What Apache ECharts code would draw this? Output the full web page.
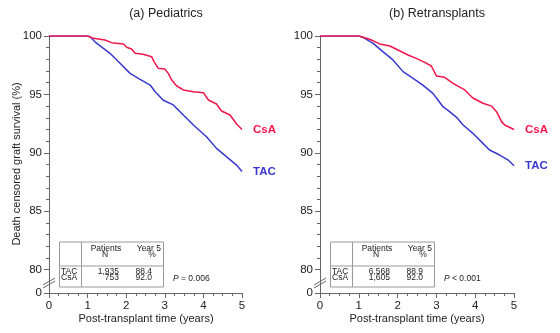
<!DOCTYPE html>
<html>
<head>
<meta charset="utf-8">
<script src="https://cdn.jsdelivr.net/npm/echarts@6/dist/echarts.min.js"></script>
<style>
  html, body { margin: 0; padding: 0; background: #fff; }
  #chart { width: 560px; height: 333px; }
</style>
</head>
<body>
<div id="chart"></div>
<script>
// ---- data ----
const panelTitles = ['(a) Pediatrics', '(b) Retransplants'];
const groups = ['TAC', 'CsA'];
const yearTicks = [0, 1, 2, 3, 4, 5];
const survivalTicks = [80, 85, 90, 95, 100];
const brokenAxisBase = 78;          // plotted position of the "0" label below the axis break

// Pediatrics, Kaplan-Meier estimates: [years, survival %]
const pedsTAC = [
  [0, 100], [1.0, 100], [1.06, 99.95], [1.19, 99.5], [1.41, 98.94], [1.58, 98.52], [1.84, 97.66],
  [2.1, 96.8], [2.36, 96.29], [2.62, 95.8], [2.75, 95.23], [2.96, 94.5], [3.22, 94.1],
  [3.48, 93.24], [3.74, 92.38], [4.08, 91.38], [4.34, 90.38], [4.65, 89.53], [4.86, 88.95]
];
const pedsCsA = [
  [0, 100], [1.0, 100], [1.15, 99.8], [1.45, 99.66], [1.62, 99.43], [1.93, 99.32], [2.01, 99.03],
  [2.14, 98.89], [2.23, 98.52], [2.44, 98.43], [2.66, 98.23], [2.72, 97.8], [2.83, 97.23],
  [3.0, 97.17], [3.09, 96.8], [3.18, 96.23], [3.31, 95.72], [3.48, 95.38], [3.74, 95.23],
  [4.0, 95.15], [4.13, 94.52], [4.34, 94.18], [4.47, 93.58], [4.69, 93.24], [4.86, 92.47]
];
const pedsN = ['1,935', '753'];
const pedsYear5 = [88.4, 92.0];
const pedsP = ' = 0.006';

// Retransplants, Kaplan-Meier estimates: [years, survival %]
const retxTAC = [
  [0, 100], [1.0, 100], [1.11, 99.89], [1.37, 99.37], [1.62, 98.66], [1.88, 97.95], [2.14, 96.95],
  [2.4, 96.38], [2.65, 95.8], [2.91, 95.09], [3.04, 94.52], [3.17, 93.95], [3.34, 93.52],
  [3.52, 93.04], [3.69, 92.38], [3.94, 91.67], [4.2, 90.81], [4.37, 90.24], [4.63, 89.81],
  [4.85, 89.38]
];
const retxCsA = [
  [0, 100], [1.0, 100], [1.02, 99.98], [1.28, 99.72], [1.54, 99.32], [1.8, 99.14], [2.05, 98.74],
  [2.27, 98.37], [2.48, 98.08], [2.7, 97.74], [2.87, 97.43], [3.0, 96.58], [3.21, 96.46],
  [3.43, 95.95], [3.73, 95.38], [3.94, 94.69], [4.2, 94.24], [4.42, 94.0], [4.55, 93.52],
  [4.68, 92.67], [4.76, 92.38]
];
const retxN = ['6,568', '1,605'];
const retxYear5 = [88.9, 92.0];
const retxP = ' < 0.001';

// ---- layout & style ----
const FONT = '"Liberation Sans", Arial, Helvetica, sans-serif';
const COLORS = { TAC: '#3838d0', CsA: '#f2164a' };
const AXIS_COLOR = '#666';
const TEXT_COLOR = '#222';
const GRID_TOP = 36, GRID_BOTTOM_Y = 293;
const panels = [
  { left: 49, width: 193, curves: [pedsTAC, pedsCsA], n: pedsN, year5: pedsYear5, p: pedsP },
  { left: 320, width: 194, curves: [retxTAC, retxCsA], n: retxN, year5: retxYear5, p: retxP }
];

const minorSurvival = [];
for (let v = survivalTicks[0]; v < survivalTicks[survivalTicks.length - 1]; v++) {
  if (!survivalTicks.includes(v)) minorSurvival.push(v);
}
const majorSurvival = [brokenAxisBase].concat(survivalTicks);

const grid = [], xAxis = [], yAxis = [], series = [], graphic = [];

panels.forEach((pn, i) => {
  grid.push({ left: pn.left, width: pn.width, top: GRID_TOP, bottom: 333 - GRID_BOTTOM_Y });

  xAxis.push({
    type: 'value', gridIndex: i, min: yearTicks[0], max: yearTicks[yearTicks.length - 1], interval: 1,
    axisLine: { show: true, lineStyle: { color: AXIS_COLOR, width: 1 } },
    axisTick: { show: true, length: 5, lineStyle: { color: AXIS_COLOR } },
    minorTick: { show: true, splitNumber: 4, length: 3, lineStyle: { color: AXIS_COLOR } },
    axisLabel: { margin: 7, fontSize: 11.5, color: TEXT_COLOR, fontFamily: FONT },
    splitLine: { show: false }
  });

  // main survival axis (with the broken-axis "0" label)
  yAxis.push({
    type: 'value', gridIndex: i, position: 'left', min: brokenAxisBase, max: 100, interval: 1,
    axisLine: { show: true, lineStyle: { color: AXIS_COLOR, width: 1 } },
    axisTick: { show: true, length: 5, customValues: majorSurvival, lineStyle: { color: AXIS_COLOR } },
    axisLabel: {
      customValues: majorSurvival, margin: 7, fontSize: 11.5, color: TEXT_COLOR, fontFamily: FONT,
      formatter: v => (v === brokenAxisBase ? '0' : String(v))
    },
    splitLine: { show: false }
  });
  // minor ticks on the survival axis
  yAxis.push({
    type: 'value', gridIndex: i, position: 'left', min: brokenAxisBase, max: 100, interval: 1,
    axisLine: { show: false },
    axisTick: { show: true, length: 3, customValues: minorSurvival, lineStyle: { color: AXIS_COLOR } },
    axisLabel: { show: false },
    splitLine: { show: false }
  });

  groups.forEach((g, k) => {
    series.push({
      name: g, type: 'line', xAxisIndex: i, yAxisIndex: i * 2,
      data: pn.curves[k].concat([[yearTicks[yearTicks.length - 1], pn.year5[k]]]),
      showSymbol: false, symbol: 'none', silent: true,
      lineStyle: { color: COLORS[g], width: 1.5 },
      itemStyle: { color: COLORS[g] },
      endLabel: {
        show: true, formatter: g, distance: 11, color: COLORS[g],
        fontSize: 11.5, fontWeight: 'bold', fontFamily: FONT
      }
    });
  });

  const L = pn.left;
  // panel title
  graphic.push({
    type: 'text', x: L + 117, y: 14,
    style: { text: panelTitles[i], font: '12.5px ' + FONT, fill: TEXT_COLOR, align: 'center', verticalAlign: 'middle' }
  });
  // x axis title
  graphic.push({
    type: 'text', x: L + 97, y: 319,
    style: { text: 'Post-transplant time (years)', font: '11px ' + FONT, fill: TEXT_COLOR, align: 'center', verticalAlign: 'middle' }
  });
  // axis break marks
  graphic.push({
    type: 'group', x: L, y: 283,
    children: [
      { type: 'polygon', shape: { points: [[-6, 2], [6, -5], [6, -2], [-6, 5]] }, style: { fill: '#fff', stroke: null } },
      { type: 'line', shape: { x1: -6, y1: 2, x2: 6, y2: -5 }, style: { stroke: AXIS_COLOR, lineWidth: 1 } },
      { type: 'line', shape: { x1: -6, y1: 5, x2: 6, y2: -2 }, style: { stroke: AXIS_COLOR, lineWidth: 1 } }
    ]
  });
  // summary table
  const tFont = '8.5px ' + FONT;
  const tbl = [
    { type: 'rect', shape: { x: 0.5, y: 0.5, width: 104, height: 45 }, style: { fill: '#fff', stroke: '#999', lineWidth: 1 } },
    { type: 'line', shape: { x1: 22.5, y1: 0.5, x2: 22.5, y2: 45.5 }, style: { stroke: '#999', lineWidth: 1 } },
    { type: 'line', shape: { x1: 0.5, y1: 24.5, x2: 104.5, y2: 24.5 }, style: { stroke: '#999', lineWidth: 1 } },
    { type: 'text', x: 47, y: 7, style: { text: 'Patients', font: tFont, fill: TEXT_COLOR, align: 'center', verticalAlign: 'middle' } },
    { type: 'text', x: 46, y: 13, style: { text: 'N', font: tFont, fill: TEXT_COLOR, align: 'center', verticalAlign: 'middle' } },
    { type: 'text', x: 102, y: 7, style: { text: 'Year 5', font: tFont, fill: TEXT_COLOR, align: 'right', verticalAlign: 'middle' } },
    { type: 'text', x: 93, y: 13, style: { text: '%', font: tFont, fill: TEXT_COLOR, align: 'center', verticalAlign: 'middle' } }
  ];
  groups.forEach((g, k) => {
    const ry = 30 + k * 6;
    tbl.push({ type: 'text', x: 2, y: ry, style: { text: g, font: tFont, fill: TEXT_COLOR, align: 'left', verticalAlign: 'middle' } });
    tbl.push({ type: 'text', x: 60, y: ry, style: { text: pn.n[k], font: tFont, fill: TEXT_COLOR, align: 'right', verticalAlign: 'middle' } });
    tbl.push({ type: 'text', x: 93, y: ry, style: { text: pn.year5[k].toFixed(1), font: tFont, fill: TEXT_COLOR, align: 'right', verticalAlign: 'middle' } });
  });
  graphic.push({ type: 'group', x: L + 10, y: 241.5, children: tbl });
  // log-rank P value
  graphic.push({
    type: 'text', x: L + 124, y: 279,
    style: {
      text: '{i|P}' + pn.p, font: '8.5px ' + FONT, fill: TEXT_COLOR, align: 'left', verticalAlign: 'middle',
      rich: { i: { fontStyle: 'italic', fontSize: 8.5, fontFamily: FONT, fill: TEXT_COLOR } }
    }
  });
});

// y axis title (left panel only)
graphic.push({
  type: 'text', x: 17, y: 164, rotation: Math.PI / 2,
  style: { text: 'Death censored graft survival (%)', font: '11px ' + FONT, fill: TEXT_COLOR, align: 'center', verticalAlign: 'middle' }
});

const chart = echarts.init(document.getElementById('chart'), null, { renderer: 'canvas' });
chart.setOption({
  animation: false,
  backgroundColor: '#fff',
  textStyle: { fontFamily: FONT },
  grid, xAxis, yAxis, series, graphic
});
</script>
</body>
</html>
